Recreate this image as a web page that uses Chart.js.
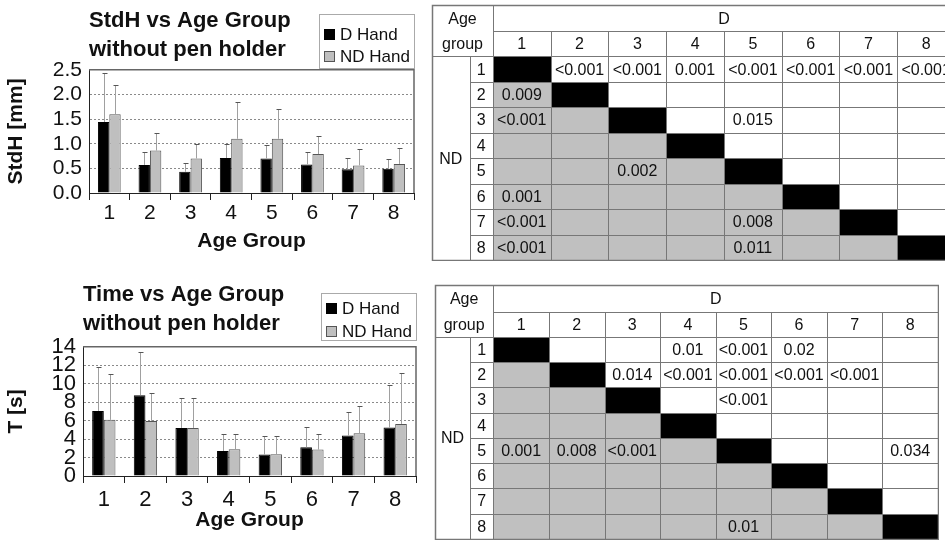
<!DOCTYPE html>
<html>
<head>
<meta charset="utf-8">
<title>StdH and Time vs Age Group</title>
<script src="https://cdn.jsdelivr.net/npm/chart.js@4.4.1/dist/chart.umd.min.js"></script>
<style>
  html, body { margin: 0; padding: 0; background: #fff; }
  body { width: 945px; height: 541px; position: relative; overflow: hidden; }
  canvas { position: absolute; }
</style>
</head>
<body>
<canvas id="stdhChart" width="425" height="265" style="left:0px;top:0px"></canvas>
<canvas id="timeChart" width="425" height="271" style="left:0px;top:270px"></canvas>
<canvas id="stdhTable" width="525" height="257" style="left:431px;top:4px"></canvas>
<canvas id="timeTable" width="505" height="256" style="left:434px;top:284px"></canvas>
<script>
// Age groups, D = dominant hand, ND = non dominant hand
const ageGroups = ['1', '2', '3', '4', '5', '6', '7', '8'];

// StdH [mm] - mean and SD per age group
const stdhD = [1.44, 0.57, 0.43, 0.71, 0.70, 0.58, 0.48, 0.49];
const stdhDSd = [1.00, 0.27, 0.17, 0.28, 0.27, 0.26, 0.24, 0.20];
const stdhND = [1.60, 0.86, 0.70, 1.10, 1.10, 0.79, 0.56, 0.59];
const stdhNDSd = [0.60, 0.35, 0.29, 0.75, 0.61, 0.37, 0.33, 0.33];
const stdhTicks = [0, 0.5, 1.0, 1.5, 2.0, 2.5];

// T [s] - mean and SD per age group
const timeD = [7.05, 8.76, 5.21, 2.71, 2.32, 3.11, 4.38, 5.25];
const timeDSd = [4.71, 4.70, 3.29, 1.81, 2.06, 2.21, 2.53, 4.59];
const timeND = [6.08, 5.97, 5.21, 2.89, 2.35, 2.86, 4.63, 5.64];
const timeNDSd = [4.95, 2.97, 3.29, 1.67, 2.03, 1.73, 2.97, 5.54];
const timeTicks = [0, 2, 4, 6, 8, 10, 12, 14];

// p values: rows = ND age group, columns = D age group
const stdhP = [
    ['', '<0.001', '<0.001', '0.001', '<0.001', '<0.001', '<0.001', '<0.001'],
    ['0.009', '', '', '', '', '', '', ''],
    ['<0.001', '', '', '', '0.015', '', '', ''],
    ['', '', '', '', '', '', '', ''],
    ['', '', '0.002', '', '', '', '', ''],
    ['0.001', '', '', '', '', '', '', ''],
    ['<0.001', '', '', '', '0.008', '', '', ''],
    ['<0.001', '', '', '', '0.011', '', '', '']
];
const timeP = [
    ['', '', '', '0.01', '<0.001', '0.02', '', ''],
    ['', '', '0.014', '<0.001', '<0.001', '<0.001', '<0.001', ''],
    ['', '', '', '', '<0.001', '', '', ''],
    ['', '', '', '', '', '', '', ''],
    ['0.001', '0.008', '<0.001', '', '', '', '', '0.034'],
    ['', '', '', '', '', '', '', ''],
    ['', '', '', '', '', '', '', ''],
    ['', '', '', '', '0.01', '', '', '']
];

const FONT = "'Liberation Sans', Arial, sans-serif";
Chart.defaults.font.family = FONT;
Chart.defaults.color = '#111';

// error bars (mean + SD, upward only)
const errorBars = {
    id: 'errorBars',
    afterDatasetsDraw(chart) {
        const ctx = chart.ctx;
        const yScale = chart.scales.y;
        chart.data.datasets.forEach((ds, i) => {
            chart.getDatasetMeta(i).data.forEach((bar, j) => {
                const top = Math.round(yScale.getPixelForValue(ds.data[j] + ds.errors[j])) + 0.5;
                const x = Math.round(bar.x) + 0.5;
                ctx.save();
                ctx.lineWidth = 1;
                ctx.strokeStyle = '#a0a0a0';
                ctx.beginPath();
                ctx.moveTo(x, bar.y);
                ctx.lineTo(x, top);
                ctx.stroke();
                ctx.strokeStyle = '#555';
                ctx.beginPath();
                ctx.moveTo(x - 2, top);
                ctx.lineTo(x + 3, top);
                ctx.stroke();
                ctx.restore();
            });
        });
    }
};

// top and right edge of the plot area
const plotFrame = {
    id: 'plotFrame',
    beforeDatasetsDraw(chart) {
        const { ctx, chartArea: a } = chart;
        ctx.save();
        ctx.strokeStyle = '#666';
        ctx.lineWidth = 1.5;
        ctx.beginPath();
        ctx.moveTo(a.left, a.top);
        ctx.lineTo(a.right, a.top);
        ctx.lineTo(a.right, a.bottom);
        ctx.stroke();
        ctx.restore();
    }
};

// boxed legend next to the title
const boxLegend = {
    id: 'boxLegend',
    afterDraw(chart, args, opts) {
        const { ctx, chartArea: a } = chart;
        const left = Math.round(a.right - opts.width);
        const top = opts.top;
        ctx.save();
        ctx.strokeStyle = '#aaa';
        ctx.lineWidth = 1;
        ctx.strokeRect(left + 0.5, top + 0.5, opts.width, opts.height);
        ctx.font = '17px ' + FONT;
        ctx.textBaseline = 'middle';
        chart.data.datasets.forEach((ds, i) => {
            const cy = Math.round(top + opts.rowTop + i * opts.rowGap);
            ctx.fillStyle = ds.backgroundColor;
            ctx.fillRect(left + 5, cy - 5, 11, 11);
            ctx.strokeStyle = ds.borderColor;
            ctx.strokeRect(left + 5.5, cy - 4.5, 10, 10);
            ctx.fillStyle = '#111';
            ctx.fillText(ds.label, left + 21, cy + 1);
        });
        ctx.restore();
    }
};

function makeBarChart(id, cfg) {
    return new Chart(document.getElementById(id), {
        type: 'bar',
        data: {
            labels: ageGroups,
            datasets: [
                { label: 'D Hand', data: cfg.d, errors: cfg.dSd, backgroundColor: '#000', borderColor: '#000',
                  borderWidth: 1, categoryPercentage: 0.56, barPercentage: 1 },
                { label: 'ND Hand', data: cfg.nd, errors: cfg.ndSd, backgroundColor: '#bfbfbf', borderColor: '#555',
                  borderWidth: 1, categoryPercentage: 0.56, barPercentage: 1 }
            ]
        },
        options: {
            responsive: false,
            animation: false,
            events: [],
            layout: { padding: { left: 0, right: cfg.padRight, top: 0, bottom: 0 } },
            plugins: {
                legend: { display: false },
                tooltip: { enabled: false },
                title: {
                    display: true, text: cfg.title, align: 'start', fullSize: false, color: '#111',
                    font: { size: 22, weight: 'bold', lineHeight: 1.29 },
                    padding: { top: cfg.titleTop, bottom: cfg.titleBottom }
                },
                boxLegend: cfg.legend
            },
            scales: {
                x: {
                    grid: { offset: true, drawOnChartArea: false, tickLength: 7, color: '#222', tickColor: '#222' },
                    border: { color: '#222' },
                    ticks: { autoSkip: false, maxRotation: 0, padding: cfg.xPad, font: { size: cfg.xFont }, color: '#111' },
                    title: { display: true, text: 'Age Group', color: '#111', font: { size: 21, weight: 'bold' },
                             padding: { top: 0, bottom: cfg.xTitleBottom } },
                    afterFit: s => { s.height = cfg.xHeight; }
                },
                y: {
                    min: cfg.ticks[0],
                    max: cfg.ticks[cfg.ticks.length - 1],
                    afterBuildTicks: s => { s.ticks = cfg.ticks.map(v => ({ value: v })); },
                    grid: { drawTicks: false, color: '#8a8a8a' },
                    border: { color: '#222', dash: [2, 2] },
                    ticks: { autoSkip: false, padding: 7, font: { size: cfg.yFont }, color: '#111',
                             callback: v => cfg.fmt(v) },
                    title: { display: true, text: cfg.yTitle, color: '#111', font: { size: 21, weight: 'bold' } },
                    afterFit: s => { s.width = cfg.yWidth; }
                }
            }
        },
        plugins: [plotFrame, errorBars, boxLegend]
    });
}

makeBarChart('stdhChart', {
    d: stdhD, dSd: stdhDSd, nd: stdhND, ndSd: stdhNDSd, ticks: stdhTicks,
    fmt: v => v.toFixed(1),
    title: ['StdH vs Age Group', 'without pen holder'], yTitle: 'StdH [mm]',
    padRight: 11, titleTop: 7, titleBottom: 6, xHeight: 72, xPad: 1, xFont: 21, xTitleBottom: 11,
    yWidth: 89, yFont: 21,
    legend: { width: 95, top: 14, height: 54, rowTop: 19.5, rowGap: 22.5 }
});

makeBarChart('timeChart', {
    d: timeD, dSd: timeDSd, nd: timeND, ndSd: timeNDSd, ticks: timeTicks,
    fmt: v => String(v),
    title: ['Time vs Age Group', 'without pen holder'], yTitle: 'T [s]',
    padRight: 9, titleTop: 11, titleBottom: 9, xHeight: 65, xPad: 4, xFont: 22, xTitleBottom: 8,
    yWidth: 83, yFont: 22,
    legend: { width: 95, top: 23, height: 47, rowTop: 15, rowGap: 23 }
});

// p value tables drawn on hidden linear scales (1 unit = one cell)
const pTable = {
    id: 'pTable',
    afterDraw(chart, args, o) {
        const { ctx, scales: { x, y } } = chart;
        const px = v => Math.round(x.getPixelForValue(v)) + 0.5;
        const py = v => Math.round(y.getPixelForValue(v)) + 0.5;
        const n = o.values.length;
        const x0 = -(o.numWidth + o.ageWidth), xn = -o.numWidth;
        const y0 = -(o.dHeight + o.numHeight), yn = -o.numHeight;

        ctx.save();
        o.values.forEach((row, r) => row.forEach((val, c) => {
            ctx.fillStyle = r === c ? '#000' : (r > c ? '#c0c0c0' : '#fff');
            ctx.fillRect(px(c), py(r), px(c + 1) - px(c), py(r + 1) - py(r));
        }));

        const line = (xa, ya, xb, yb) => {
            ctx.beginPath();
            ctx.moveTo(px(xa), py(ya));
            ctx.lineTo(px(xb), py(yb));
            ctx.stroke();
        };
        ctx.strokeStyle = '#777';
        ctx.lineWidth = 1;
        for (let c = 1; c < n; c++) line(c, yn, c, n);
        for (let r = 1; r < n; r++) line(xn, r, n, r);
        line(xn, 0, xn, n);
        line(0, y0, 0, n);
        line(0, yn, n, yn);
        line(x0, 0, n, 0);
        ctx.lineWidth = 1.5;
        ctx.strokeRect(px(x0), py(y0), px(n) - px(x0), py(n) - py(y0));

        ctx.fillStyle = '#111';
        ctx.font = '16px ' + FONT;
        ctx.textAlign = 'center';
        ctx.textBaseline = 'middle';
        const text = (s, xv, yv) => ctx.fillText(s, x.getPixelForValue(xv), y.getPixelForValue(yv) + 1);
        text('Age', x0 / 2, yn - o.dHeight / 2);
        text('group', x0 / 2, yn / 2);
        text('D', n / 2, yn - o.dHeight / 2);
        text('ND', (x0 + xn) / 2, n / 2);
        o.labels.forEach((lab, i) => {
            text(lab, i + 0.5, yn / 2);
            text(lab, xn / 2, i + 0.5);
        });
        o.values.forEach((row, r) => row.forEach((val, c) => {
            if (val) text(val, c + 0.5, r + 0.5);
        }));
        ctx.restore();
    }
};

function makeTable(id, values, geom) {
    const n = values.length;
    return new Chart(document.getElementById(id), {
        type: 'scatter',
        data: { datasets: [] },
        options: {
            responsive: false,
            animation: false,
            events: [],
            layout: { padding: 1 },
            plugins: {
                legend: { display: false },
                tooltip: { enabled: false },
                pTable: Object.assign({ values: values, labels: ageGroups }, geom)
            },
            scales: {
                x: { type: 'linear', display: false, min: -(geom.numWidth + geom.ageWidth), max: n },
                y: { type: 'linear', display: false, reverse: true, min: -(geom.dHeight + geom.numHeight), max: n }
            }
        },
        plugins: [pTable]
    });
}

makeTable('stdhTable', stdhP, { numWidth: 0.405, ageWidth: 0.65, dHeight: 1.035, numHeight: 0.985 });
makeTable('timeTable', timeP, { numWidth: 0.42, ageWidth: 0.63, dHeight: 1.055, numHeight: 0.99 });
</script>
</body>
</html>
